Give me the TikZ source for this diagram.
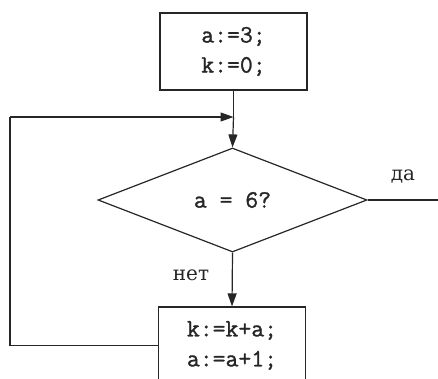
\documentclass[tikz,border=0pt]{standalone}
\usepackage{fontspec}
\setmainfont[FakeBold=1]{Latin Modern Mono}
\newfontfamily\codefont[FakeBold=1.2]{Latin Modern Mono}
\newfontfamily\cyrfont{DejaVu Serif}
\usetikzlibrary{shapes.geometric,arrows.meta}
\tikzset{
  ln/.style={line width=1.2pt, draw=black!85},
  arr/.style={ln, -{Triangle[length=13pt,width=9pt]}},
  box/.style={ln, rectangle, minimum width=147pt, minimum height=77pt, align=center, inner sep=0pt,
    font=\codefont\fontsize{25}{30}\selectfont, text=black!85},
  cond/.style={ln, diamond, minimum width=269pt, minimum height=104pt, inner sep=0pt,
    font=\codefont\fontsize{25}{28}\selectfont, text=black!85},
  lbl/.style={font=\cyrfont\fontsize{20}{24}\selectfont, inner sep=0pt, text=black!85}
}
\begin{document}
\begin{tikzpicture}[x=1pt,y=-1pt]
\useasboundingbox (0,0) rectangle (438,379);
\clip (0,0) rectangle (438,379);
\fill[white] (0,0) rectangle (438,379);
\node[box] (init) at (233.5,51.5) {a:=3;\\k:=0;};
\node[cond] (test) at (232.5,200) {a = 6?};
\node[box] (body) at (232,345.5) {k:=k+a;\\a:=a+1;};
\coordinate (join) at (233.5,117);
\coordinate (left) at (10,117);
\coordinate (yesend) at (440,200);
\draw[ln] (init.south) -- (join);
\draw[arr] (join) -- (test.north);
\draw[arr] (test.south) -- (body.north);
\draw[ln] (body.west) -| (left);
\draw[arr] (left) -- (join);
\draw[ln] (test.east) -- (yesend);
\node[lbl] (yes) at (403,177) {да};
\node[lbl] (no) at (191,275) {нет};
\end{tikzpicture}
\end{document}
